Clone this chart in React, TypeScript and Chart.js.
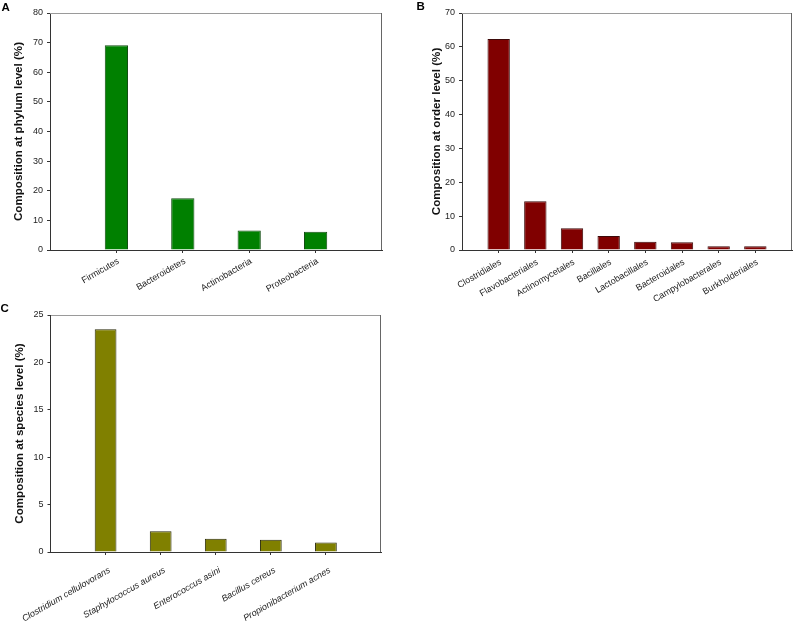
import React, { useEffect, useRef } from 'react';
import { Chart, registerables } from 'chart.js';

Chart.register(...registerables);

// ---- data ----
const phylumNames = ['Firmicutes', 'Bacteroidetes', 'Actinobacteria', 'Proteobacteria'];
const phylumValues = [69.1, 17.5, 6.6, 6.2];

const orderNames = [
  'Clostridiales',
  'Flavobacteriales',
  'Actinomycetales',
  'Bacillales',
  'Lactobacillales',
  'Bacteroidales',
  'Campylobacterales',
  'Burkholderiales',
];
const orderValues = [62.3, 14.4, 6.4, 4.1, 2.4, 2.3, 1.1, 1.1];

const speciesNames = [
  'Clostridium cellulovorans',
  'Staphylococcus aureus',
  'Enterococcus asini',
  'Bacillus cereus',
  'Propionibacterium acnes',
];
const speciesValues = [23.5, 2.2, 1.4, 1.3, 1.0];

const FONT = "'Liberation Sans', Arial, Helvetica, sans-serif";

const framePlugin = {
  id: 'frame',
  afterDraw(chart: any) {
    const { ctx, chartArea } = chart;
    const { left, top, right, bottom } = chartArea;
    ctx.save();
    ctx.lineWidth = 1;
    ctx.strokeStyle = '#9a9a9a';
    ctx.beginPath();
    ctx.moveTo(Math.round(left), Math.round(top) + 0.5);
    ctx.lineTo(Math.round(right), Math.round(top) + 0.5);
    ctx.stroke();
    ctx.strokeStyle = '#666';
    ctx.beginPath();
    ctx.moveTo(Math.round(right) - 0.5, Math.round(top));
    ctx.lineTo(Math.round(right) - 0.5, Math.round(bottom));
    ctx.stroke();
    ctx.restore();
  },
};

type Box = { left: number; top: number; width: number; height: number };
type Area = { left: number; top: number; right: number; bottom: number };

type PanelProps = {
  names: string[];
  values: number[];
  yMax: number;
  yStep: number;
  yTitle: string;
  fill: string;
  border: string;
  barFrac: number;
  italic?: boolean;
  box: Box;
  area: Area; // in canvas coordinates
  titleX: number; // title centre, canvas coordinates
  labelPad: number;
  labelShift: number;
};

function Panel(p: PanelProps) {
  const ref = useRef<HTMLCanvasElement | null>(null);
  useEffect(() => {
    if (!ref.current) return;
    const { names, values, box, area } = p;
    const chart = new Chart(ref.current, {
      type: 'bar',
      data: {
        datasets: [
          {
            data: names.map((_, i) => ({ x: i + 1, y: values[i] })),
            backgroundColor: p.fill,
            borderColor: p.border,
            borderWidth: 1,
            categoryPercentage: 1,
            barPercentage: p.barFrac,
          } as any,
        ],
      },
      options: {
        animation: false,
        responsive: false,
        maintainAspectRatio: false,
        devicePixelRatio: 1,
        layout: {
          padding: { left: 0, top: area.top, right: box.width - area.right, bottom: 0 },
        },
        plugins: { legend: { display: false }, tooltip: { enabled: false } },
        scales: {
          x: {
            type: 'linear',
            min: 0,
            max: names.length + 1,
            offset: false,
            grid: {
              display: true,
              drawOnChartArea: false,
              drawTicks: true,
              tickLength: 3,
              tickColor: '#333',
              offset: false,
            },
            border: { display: true, color: '#333', width: 1 },
            afterBuildTicks: (s: any) => {
              s.ticks = names.map((_, i) => ({ value: i + 1 }));
            },
            afterFit: (s: any) => {
              s.height = box.height - area.bottom;
              s.paddingLeft = 0;
              s.paddingRight = 0;
            },
            ticks: {
              autoSkip: false,
              minRotation: 30,
              maxRotation: 30,
              padding: p.labelPad,
              labelOffset: p.labelShift,
              color: '#222',
              font: { family: FONT, size: 9, style: p.italic ? 'italic' : 'normal' },
              callback: (_v: any, i: number) => names[i],
            },
          },
          y: {
            min: 0,
            max: p.yMax,
            ticks: {
              stepSize: p.yStep,
              padding: 4,
              color: '#222',
              font: { family: FONT, size: 9 },
            },
            grid: {
              display: true,
              drawOnChartArea: false,
              drawTicks: true,
              tickLength: 3,
              tickColor: '#333',
            },
            border: { display: true, color: '#333', width: 1 },
            title: {
              display: true,
              text: p.yTitle,
              color: '#111',
              font: { family: FONT, size: 11.6, weight: 'bold' },
              padding: { top: p.titleX - 7, bottom: 0 },
            },
            afterFit: (s: any) => {
              s.width = area.left;
              s.paddingTop = 0;
              s.paddingBottom = 0;
            },
          },
        },
      } as any,
      plugins: [framePlugin],
    });
    return () => chart.destroy();
  }, []);
  return (
    <canvas
      ref={ref}
      width={p.box.width}
      height={p.box.height}
      style={{
        position: 'absolute',
        left: p.box.left,
        top: p.box.top,
        width: p.box.width,
        height: p.box.height,
      }}
    />
  );
}

const letterStyle = (left: number, top: number): React.CSSProperties => ({
  position: 'absolute',
  left,
  top,
  fontFamily: FONT,
  fontWeight: 'bold',
  fontSize: 11.5,
  lineHeight: '11.5px',
  color: '#000',
});

export default function App() {
  return (
    <div style={{ position: 'absolute', left: 0, top: 0, width: 793, height: 622, background: '#fff' }}>
      <Panel
        names={phylumNames}
        values={phylumValues}
        yMax={80}
        yStep={10}
        yTitle="Composition at phylum level (%)"
        fill="#008000"
        border="#134d13"
        barFrac={0.35}
        box={{ left: 0, top: 0, width: 395, height: 300 }}
        area={{ left: 50, top: 13, right: 382, bottom: 250 }}
        titleX={18.7}
        labelPad={3}
        labelShift={2}
      />
      <Panel
        names={orderNames}
        values={orderValues}
        yMax={70}
        yStep={10}
        yTitle="Composition at order level (%)"
        fill="#800000"
        border="#3d0a0a"
        barFrac={0.61}
        box={{ left: 400, top: 0, width: 393, height: 330 }}
        area={{ left: 62, top: 13, right: 392, bottom: 250 }}
        titleX={36.5}
        labelPad={4}
        labelShift={2}
      />
      <Panel
        names={speciesNames}
        values={speciesValues}
        yMax={25}
        yStep={5}
        yTitle="Composition at species level (%)"
        fill="#808000"
        border="#2a2a0a"
        barFrac={0.395}
        italic
        box={{ left: 0, top: 300, width: 395, height: 322 }}
        area={{ left: 50.5, top: 15, right: 381, bottom: 252 }}
        titleX={19.5}
        labelPad={10}
        labelShift={4}
      />
      <div style={letterStyle(1.5, 2)}>A</div>
      <div style={letterStyle(416.5, 1.3)}>B</div>
      <div style={letterStyle(0.5, 302.6)}>C</div>
    </div>
  );
}
